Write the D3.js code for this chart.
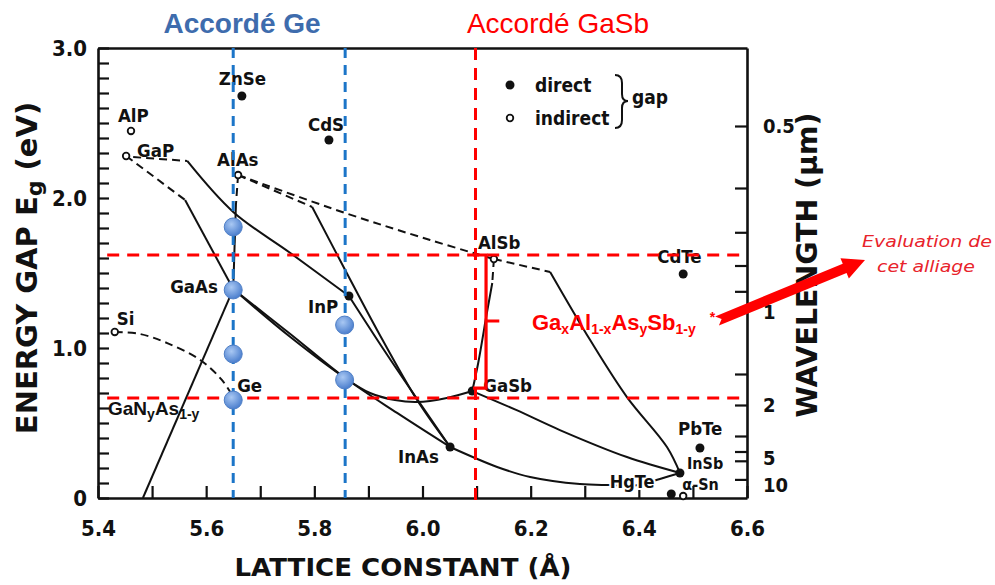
<!DOCTYPE html>
<html><head><meta charset="utf-8">
<script src="https://cdn.jsdelivr.net/npm/d3@7"></script>
<style>
html,body{margin:0;padding:0;background:#fff;}
svg{display:block;}
</style></head><body>
<svg id="chart" width="995" height="585"></svg>
<script>
// ---------------- DATA ----------------
const energyTicks = [0,0.1,0.2,0.3,0.4,0.5,0.6,0.7,0.8,0.9,1,1.1,1.2,1.3,1.4,1.5,1.6,1.7,1.8,1.9,2,2.1,2.2,2.3,2.4,2.5,2.6,2.7,2.8,2.9,3];
const energyTickLabels = {"0":"0","1":"1.0","2":"2.0","3":"3.0"};
const latticeTicks = [5.4,5.5,5.6,5.7,5.8,5.9,6.0,6.1,6.2,6.3,6.4,6.5,6.6];
const latticeTickLabels = {"5.4":"5.4","5.6":"5.6","5.8":"5.8","6.0":"6.0","6.2":"6.2","6.4":"6.4","6.6":"6.6"};
const wavelengthTicks = [0.5,0.6,0.7,0.8,0.9,1,1.5,2,3,4,5,10];
const wavelengthTickLabels = {"0.5":"0.5","1":"1","2":"2","5":"5","10":"10"};

// name, lattice constant (Å), gap (eV), direct?
const materialNames  = ["ZnSe","CdS","AlP","GaP","AlAs","GaAs","Si","Ge","InP","AlSb","GaSb","InAs","CdTe","PbTe","InSb","α-Sn",""];
const materialLattice= [5.666,5.827,5.461,5.452,5.659,5.650,5.431,5.650,5.864,6.132,6.092,6.051,6.482,6.513,6.476,6.460,6.482];
const materialGap    = [2.68,2.387,2.447,2.28,2.153,1.393,1.107,0.673,1.347,1.593,0.713,0.34,1.493,0.333,0.167,0.027,0.013];
const materialDirect = [true,true,false,false,false,true,false,false,true,false,true,true,true,true,true,true,false];

// alloy curves: [lattice, gap] points
const gapGaAs_dash  = [[5.452,2.28],[5.561,1.987]];
const gapGaAs_solid = [[5.561,1.987],[5.650,1.393]];
const gapInP_dash   = [[5.465,2.273],[5.565,2.247]];
const gapInP_solid  = [[5.565,2.247],[5.650,1.907],[5.755,1.635],[5.864,1.347]];
const alasGaas_dash = [[5.659,2.153],[5.655,1.953]];
const alasGaas_solid= [[5.655,1.953],[5.650,1.393]];
const alasAlsb_dash = [[5.659,2.153],[5.857,1.90],[6.014,1.72],[6.132,1.593]];
const alasInas_dash = [[5.659,2.153],[5.796,1.94]];
const alasInas_solid= [[5.796,1.94],[5.857,1.52],[5.916,1.12],[5.990,0.653],[6.051,0.34]];
const inpInas       = [[5.864,1.347],[5.930,0.98],[5.990,0.66],[6.051,0.34]];
const gaasGasb      = [[5.650,1.393],[5.755,1.075],[5.857,0.80],[5.903,0.70],[5.949,0.653],[5.990,0.64],[6.045,0.667],[6.092,0.713]];
const gaasInas      = [[5.650,1.393],[5.755,1.095],[5.857,0.80],[5.953,0.567],[6.051,0.34]];
const inasInsb      = [[6.051,0.34],[6.138,0.207],[6.199,0.14],[6.291,0.093],[6.343,0.087],[6.400,0.087],[6.439,0.127],[6.476,0.167]];
const gasbInsb      = [[6.092,0.713],[6.173,0.587],[6.254,0.453],[6.378,0.273],[6.476,0.167]];
const alsbGasb_dash = [[6.132,1.593],[6.129,1.433]];
const alsbGasb_solid= [[6.129,1.433],[6.119,1.233],[6.103,0.90],[6.092,0.713]];
const alsbInsb_dash = [[6.132,1.593],[6.236,1.507]];
const alsbInsb_solid= [[6.236,1.507],[6.310,1.053],[6.378,0.673],[6.452,0.34],[6.476,0.167]];
const siGe_dash     = [[5.431,1.107],[5.478,1.093],[5.528,1.033],[5.589,0.92],[5.629,0.787],[5.650,0.673]];
const ganas         = [[5.650,1.393],[5.483,0]];

const solidCurves  = [gapGaAs_solid, gapInP_solid, alasGaas_solid, alasInas_solid, inpInas, gaasGasb, gaasInas, inasInsb, gasbInsb, alsbGasb_solid, alsbInsb_solid, ganas];
const dashedCurves = [gapGaAs_dash, gapInP_dash, alasGaas_dash, alasAlsb_dash, alasInas_dash, alsbGasb_dash, alsbInsb_dash, siGe_dash];

// lattice-matched guides
const matchedGe = [5.650, 5.857];
const matchedGaSb = [6.098];
const gapLimits = [1.62, 0.667];
const bracketGap = [1.62, 0.733, 1.18];
const bracketLattice = [6.0935, 6.1175, 6.142];

// evaluated compositions (blue markers)
const evalLattice = [5.650,5.650,5.650,5.650,5.856,5.856];
const evalGap     = [1.807,1.387,0.96,0.653,1.153,0.787];

// ---------------- CHART ----------------
const svg = d3.select("#chart");
const x = d3.scaleLinear().domain([5.4, 6.6]).range([98, 747]);
const y = d3.scaleLinear().domain([0, 3]).range([498, 48]);
const tickFont = "'DejaVu Sans Condensed','Liberation Sans Narrow','DejaVu Sans',sans-serif";
const labFont = "'DejaVu Sans Condensed','DejaVu Sans',sans-serif";

const defs = svg.append("defs");
const grad = defs.append("radialGradient").attr("id","bub").attr("cx","40%").attr("cy","35%").attr("r","65%");
grad.append("stop").attr("offset","0%").attr("stop-color","#a9c8f3");
grad.append("stop").attr("offset","100%").attr("stop-color","#4c7fce");

const key = v => String(+v.toFixed(2));

// axes
const gl = svg.append("g").attr("transform","translate(98,0)")
  .call(d3.axisLeft(y).tickValues(energyTicks).tickSize(-11).tickSizeOuter(0).tickPadding(11)
    .tickFormat(d => energyTickLabels[key(d)] || ""));
const gb = svg.append("g").attr("transform","translate(0,498)")
  .call(d3.axisBottom(x).tickValues(latticeTicks).tickSize(-12).tickSizeOuter(0).tickPadding(22)
    .tickFormat(d => latticeTickLabels[d.toFixed(1)] || ""));
const gr = svg.append("g").attr("transform","translate(747,0)")
  .call(d3.axisRight(y).tickValues(wavelengthTicks.map(l => 1.24 / l)).tickSize(-12).tickSizeOuter(0).tickPadding(16)
    .tickFormat((e,i) => wavelengthTickLabels[String(wavelengthTicks[i])] || ""));
const gt = svg.append("g").attr("transform","translate(0,48)")
  .call(d3.axisTop(x).tickValues([]).tickSizeOuter(0));
[gl,gb,gr,gt].forEach(g => {
  g.select(".domain").attr("stroke","#111").attr("stroke-width",2.6);
  g.selectAll(".tick line").attr("stroke","#111").attr("stroke-width",2.2);
  g.selectAll("text").attr("font-family",tickFont).attr("font-weight","bold").attr("font-size",22).attr("fill","#111");
});
gr.selectAll("text").attr("font-size",20);
gr.selectAll(".tick").filter((d,i) => wavelengthTicks[i] === 10).select("text").attr("dy","0.6em");
gr.selectAll(".tick").filter((d,i) => wavelengthTicks[i] === 5).select("text").attr("dy","0.2em");

// axis titles
const yt = svg.append("text").attr("transform","translate(37,268) rotate(-90)")
  .attr("text-anchor","middle").attr("font-family","'DejaVu Sans',sans-serif").attr("font-weight","bold")
  .attr("font-size",29).attr("fill","#111");
yt.append("tspan").text("ENERGY GAP E");
yt.append("tspan").attr("font-size",22).attr("dy",5).text("g");
yt.append("tspan").attr("dy",-5).text("  (eV)");
svg.append("text").attr("transform","translate(817,265) rotate(-90)")
  .attr("text-anchor","middle").attr("font-family","'DejaVu Sans',sans-serif").attr("font-weight","bold")
  .attr("font-size",28).attr("fill","#111").attr("textLength",305).attr("lengthAdjust","spacingAndGlyphs")
  .text("WAVELENGTH  (μm)");
svg.append("text").attr("x",403).attr("y",576)
  .attr("text-anchor","middle").attr("font-family","'DejaVu Sans',sans-serif").attr("font-weight","bold")
  .attr("font-size",25).attr("fill","#111").attr("textLength",337).attr("lengthAdjust","spacingAndGlyphs")
  .text("LATTICE CONSTANT  (Å)");

// curves
const line = d3.line().x(d => x(d[0])).y(d => y(d[1])).curve(d3.curveCatmullRom.alpha(0.5));
svg.append("g").selectAll("path").data(solidCurves).join("path")
  .attr("d", line).attr("fill","none").attr("stroke","#111").attr("stroke-width",2);
svg.append("g").selectAll("path").data(dashedCurves).join("path")
  .attr("d", line).attr("fill","none").attr("stroke","#111").attr("stroke-width",2).attr("stroke-dasharray","8,5");

// material points
const mats = materialNames.map((n,i) => ({name:n, a:materialLattice[i], eg:materialGap[i], direct:materialDirect[i]}));
svg.append("g").selectAll("circle").data(mats).join("circle")
  .attr("cx", d => x(d.a)).attr("cy", d => y(d.eg))
  .attr("r", d => d.direct ? 4.5 : 3.3)
  .attr("fill", d => d.direct ? "#111" : "#fff")
  .attr("stroke","#111").attr("stroke-width", d => d.direct ? 0 : 1.8);

// material labels (offsets in pixels from the point)
const labelOffsets = {ZnSe:[-23,-11],CdS:[-21,-9],AlP:[-13,-9],GaP:[11,1],AlAs:[-21,-9],GaAs:[-63,4],Si:[2,-7],Ge:[4,-5],
  InP:[-41,17],AlSb:[-16,-10],GaSb:[11,1],InAs:[-52,16],CdTe:[-26,-11],PbTe:[-22,-13],InSb:[7,-4],"α-Sn":[11,-4]};
const smallLabels = {InSb:true,"α-Sn":true};
svg.append("g").selectAll("text").data(mats.filter(d => d.name)).join("text")
  .attr("x", d => x(d.a) + labelOffsets[d.name][0]).attr("y", d => y(d.eg) + labelOffsets[d.name][1])
  .attr("font-family",labFont).attr("font-weight","bold").attr("font-size", d => smallLabels[d.name] ? 16 : 18.5).attr("fill","#111")
  .text(d => d.name);
svg.append("text").attr("x",x(6.346)).attr("y",y(0.067)).attr("font-family",labFont).attr("font-weight","bold")
  .attr("font-size",18).attr("fill","#111").attr("stroke","#fff").attr("stroke-width",4).attr("paint-order","stroke")
  .text("HgTe");

// legend
svg.append("circle").attr("cx",510).attr("cy",85).attr("r",4.5).attr("fill","#111");
svg.append("circle").attr("cx",510).attr("cy",118).attr("r",3.3).attr("fill","#fff").attr("stroke","#111").attr("stroke-width",1.8);
[["direct",92],["indirect",125]].forEach(t => svg.append("text").attr("x",535).attr("y",t[1])
  .attr("font-family",labFont).attr("font-weight","bold").attr("font-size",19).attr("fill","#111").text(t[0]));
svg.append("path").attr("d","M615,75 Q622,75 622,83 L622,94 Q622,101 628,101 Q622,101 622,108 L622,120 Q622,128 615,128")
  .attr("fill","none").attr("stroke","#111").attr("stroke-width",2);
svg.append("text").attr("x",632).attr("y",104).attr("font-family",labFont).attr("font-weight","bold")
  .attr("font-size",19).attr("fill","#111").text("gap");

// red guides
const red = "#ff0000";
svg.append("g").selectAll("line").data(gapLimits).join("line")
  .attr("x1", x(5.417)).attr("x2", x(6.6)).attr("y1", d => y(d)).attr("y2", d => y(d))
  .attr("stroke",red).attr("stroke-width",3).attr("stroke-dasharray","12,8");
svg.append("g").selectAll("line").data(matchedGaSb).join("line")
  .attr("x1", d => x(d)).attr("x2", d => x(d)).attr("y1", y(3)).attr("y2", 507)
  .attr("stroke",red).attr("stroke-width",3).attr("stroke-dasharray","12,8");
// blue guides
svg.append("g").selectAll("line").data(matchedGe).join("line")
  .attr("x1", d => x(d)).attr("x2", d => x(d)).attr("y1", y(3)).attr("y2", y(0))
  .attr("stroke","#1c75c8").attr("stroke-width",3).attr("stroke-dasharray","10,7");

// bracket
svg.append("path").attr("d",
  `M${x(bracketLattice[0])},${y(bracketGap[0])} H${x(bracketLattice[1])} V${y(bracketGap[1])} H${x(bracketLattice[0])}` +
  ` M${x(bracketLattice[1])},${y(bracketGap[2])} H${x(bracketLattice[2])}`)
  .attr("fill","none").attr("stroke",red).attr("stroke-width",3.2);

// evaluated compositions
svg.append("g").selectAll("circle").data(evalLattice.map((a,i) => [a, evalGap[i]])).join("circle")
  .attr("cx", d => x(d[0])).attr("cy", d => y(d[1])).attr("r",9)
  .attr("fill","url(#bub)").attr("stroke","#4f7fc6").attr("stroke-width",1);

// titles
svg.append("text").attr("x",242).attr("y",33).attr("text-anchor","middle")
  .attr("font-family","'Liberation Sans',Arial,sans-serif").attr("font-weight","bold").attr("font-size",28)
  .attr("fill","#3e6cad").text("Accordé Ge");
svg.append("text").attr("x",558).attr("y",33).attr("text-anchor","middle")
  .attr("font-family","'Liberation Sans',Arial,sans-serif").attr("font-size",28)
  .attr("fill",red).text("Accordé GaSb");

// formula labels
function formula(sel, parts, sub) {
  parts.forEach(p => {
    const t = sel.append("tspan").text(p[0]);
    if (p[1] === "sub") t.attr("font-size",sub).attr("baseline-shift","-25%");
    else if (p[1] === "sup") t.attr("font-size",sub).attr("baseline-shift","55%").attr("dx",14);
  });
}
const f1 = svg.append("text").attr("x",532).attr("y",330).attr("font-family","'Liberation Sans',Arial,sans-serif")
  .attr("font-weight","bold").attr("font-size",22).attr("fill",red);
formula(f1, [["Ga"],["x","sub"],["Al"],["1-x","sub"],["As"],["y","sub"],["Sb"],["1-y","sub"],["*","sup"]], 14);
const f2 = svg.append("text").attr("x",108).attr("y",415).attr("font-family","'Liberation Sans',Arial,sans-serif")
  .attr("font-weight","bold").attr("font-size",19).attr("fill","#111");
formula(f2, [["GaN"],["y","sub"],["As"],["1-y","sub"]], 14);

// arrow
(function(){
  const x0=717,y0=321,x1=865,y1=260;
  const dx=x1-x0, dy=y1-y0, L=Math.hypot(dx,dy), ux=dx/L, uy=dy/L, nx=-uy, ny=ux;
  const w=5, hw=11, hl=22, notch=5;
  const bx=x1-ux*hl, by=y1-uy*hl;
  const pts=[[x0+nx*w,y0+ny*w],[bx+nx*w,by+ny*w],[bx+nx*hw,by+ny*hw],[x1,y1],[bx-nx*hw,by-ny*hw],[bx-nx*w,by-ny*w],[x0-nx*w,y0-ny*w],[x0+ux*notch,y0+uy*notch]];
  svg.append("path").attr("d","M"+pts.map(p=>p.join(",")).join("L")+"Z").attr("fill",red);
})();
svg.append("text").attr("x",862).attr("y",247).attr("font-family","'DejaVu Sans',sans-serif").attr("font-style","italic")
  .attr("font-size",15).attr("fill","#e8232b").attr("textLength",130).attr("lengthAdjust","spacingAndGlyphs").text("Evaluation de");
svg.append("text").attr("x",877).attr("y",272).attr("font-family","'DejaVu Sans',sans-serif").attr("font-style","italic")
  .attr("font-size",15).attr("fill","#e8232b").attr("textLength",98).attr("lengthAdjust","spacingAndGlyphs").text("cet alliage");
</script>
</body></html>
